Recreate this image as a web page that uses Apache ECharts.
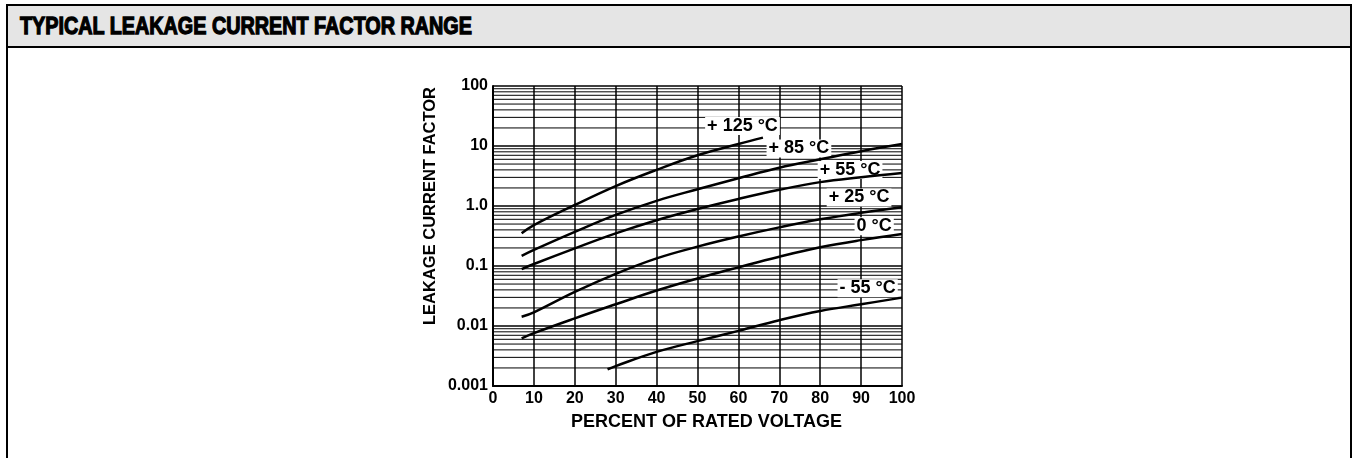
<!DOCTYPE html>
<html>
<head>
<meta charset="utf-8">
<script src="https://cdn.jsdelivr.net/npm/echarts@6/dist/echarts.min.js"></script>
<style>
  html, body { margin: 0; padding: 0; background: #fff; }
  .frame {
    position: absolute; left: 6px; top: 4px; width: 1346px; height: 470px;
    border: 2.5px solid #000; box-sizing: border-box; border-bottom: none;
  }
  .header {
    position: absolute; left: 0; top: 0; right: 0; height: 42px;
    background: #e5e5e5; border-bottom: 2.5px solid #000; box-sizing: border-box;
  }
  .header span {
    position: absolute; left: 12px; top: 6px; white-space: nowrap;
    font-family: "Liberation Sans", Arial, sans-serif;
    font-weight: bold; font-size: 24.5px; line-height: 28px;
    -webkit-text-stroke: 1.3px #000; color: #000;
    transform-origin: 0 50%;
  }
  #chart { position: absolute; left: 0; top: 0; width: 1355px; height: 458px; }
</style>
</head>
<body>
<div class="frame"><div class="header"><span id="title">TYPICAL LEAKAGE CURRENT FACTOR RANGE</span></div></div>
<div id="chart"></div>
<script>
// 电压百分比 / 漏电流系数
const x125 = [7, 10, 20, 30, 40, 50, 60, 66]
const y125 = [0.35, 0.48, 1.04, 2.15, 4.0, 7.0, 10.8, 13.8]

const xFull = [7, 10, 20, 30, 40, 50, 60, 70, 80, 90, 100]
const y85 = [0.147, 0.185, 0.37, 0.71, 1.22, 1.9, 2.9, 4.35, 6.0, 8.2, 10.8]
const y55 = [0.089, 0.108, 0.197, 0.35, 0.58, 0.89, 1.31, 1.86, 2.5, 3.02, 3.55]
const y25 = [0.0143, 0.0169, 0.037, 0.074, 0.134, 0.21, 0.31, 0.44, 0.6, 0.77, 0.95]
const y0 = [0.0062, 0.0076, 0.0134, 0.023, 0.039, 0.062, 0.095, 0.143, 0.205, 0.27, 0.34]

const xm55 = [28, 30, 40, 50, 60, 70, 80, 90, 100]
const ym55 = [0.0019, 0.00215, 0.0037, 0.0056, 0.0083, 0.0125, 0.0178, 0.023, 0.0297]

// 曲线标签位置（数据坐标）
const labels = [
  { text: '+ 125 °C', x: 61, y: 21.5 },
  { text: '+ 85 °C', x: 74.8, y: 9.1 },
  { text: '+ 55 °C', x: 87.3, y: 4.0 },
  { text: '+ 25 °C', x: 89.5, y: 1.39 },
  { text: '0 °C', x: 93.2, y: 0.46 },
  { text: '- 55 °C', x: 91.6, y: 0.0425 }
]

const yTickLabels = { '-3': '0.001', '-2': '0.01', '-1': '0.1', '0': '1.0', '1': '10', '2': '100' }
const decades = [0.001, 0.01, 0.1, 1, 10]
const minorSteps = [2, 3, 4, 5, 6, 7, 8, 9]

const font = '"Liberation Sans", Arial, sans-serif'

// 标题压缩到参考宽度
const title = document.getElementById('title')
title.style.transform = 'scaleX(' + (452 / title.offsetWidth) + ')'

const zip = (xs, ys) => xs.map((x, i) => [x, ys[i]])

// 对数网格的次刻度线：用断开的折线画
const minorGrid = []
decades.forEach(d => minorSteps.forEach(m => {
  minorGrid.push([0, d * m], [100, d * m], [100, '-'])
}))

const curve = data => ({
  type: 'line',
  data: data,
  smooth: 0.4,
  showSymbol: false,
  lineStyle: { color: '#000', width: 2.5 },
  silent: true,
  z: 5
})

const chart = echarts.init(document.getElementById('chart'))

chart.setOption({
  animation: false,
  grid: { left: 493, right: 453, top: 86, bottom: 72 },
  xAxis: {
    type: 'value',
    min: 0, max: 100, interval: 10,
    axisLine: { show: true, onZero: false, lineStyle: { color: '#000', width: 2 } },
    axisTick: { show: false },
    splitLine: { show: true, lineStyle: { color: '#000', width: 1.5 } },
    axisLabel: { color: '#000', fontFamily: font, fontWeight: 'bold', fontSize: 16, margin: 5 },
    name: 'PERCENT OF RATED VOLTAGE',
    nameLocation: 'middle',
    nameGap: 27,
    nameTextStyle: { color: '#000', fontFamily: font, fontWeight: 'bold', fontSize: 18, padding: [0, 0, 0, 18] }
  },
  yAxis: {
    type: 'log',
    logBase: 10,
    min: 0.001, max: 100,
    axisLine: { show: true, lineStyle: { color: '#000', width: 2 } },
    axisTick: { show: false },
    splitLine: { show: true, lineStyle: { color: '#000', width: 1.5 } },
    axisLabel: {
      color: '#000', fontFamily: font, fontWeight: 'bold', fontSize: 16, margin: 5,
      formatter: v => yTickLabels[Math.round(Math.log10(v))] || ''
    },
    name: 'LEAKAGE CURRENT FACTOR',
    nameLocation: 'middle',
    nameGap: 54,
    nameRotate: 90,
    nameTextStyle: { color: '#000', fontFamily: font, fontWeight: 'bold', fontSize: 16.5, padding: [0, 0, 0, 60] }
  },
  series: [
    {
      type: 'line',
      data: minorGrid,
      connectNulls: false,
      showSymbol: false,
      silent: true,
      lineStyle: { color: '#000', width: 1 },
      z: 1
    },
    curve(zip(x125, y125)),
    curve(zip(xFull, y85)),
    curve(zip(xFull, y55)),
    curve(zip(xFull, y25)),
    curve(zip(xFull, y0)),
    curve(zip(xm55, ym55)),
    {
      type: 'scatter',
      data: [],
      silent: true,
      z: 10,
      markPoint: {
        symbol: 'rect', symbolSize: 0, silent: true, animation: false,
        label: {
          show: true, position: 'inside', color: '#000', fontFamily: font,
          fontWeight: 'bold', fontSize: 18, backgroundColor: '#fff', padding: [0, 2],
          formatter: p => p.name
        },
        data: labels.map(l => ({ name: l.text, coord: [l.x, l.y] }))
      }
    }
  ]
})
</script>
</body>
</html>
